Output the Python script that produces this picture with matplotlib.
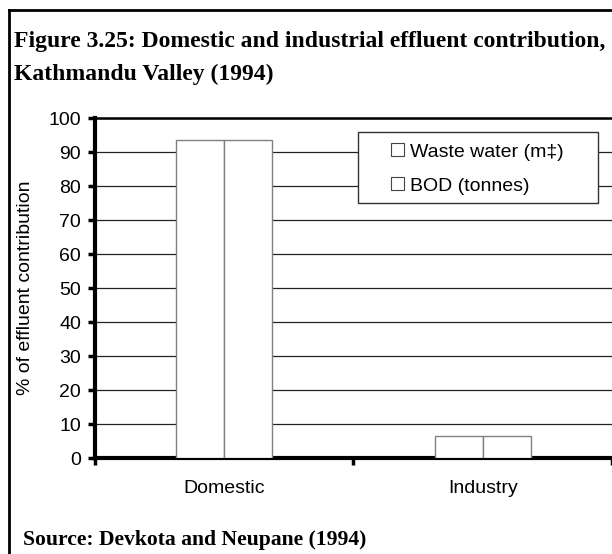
import numpy as np
from matplotlib import pyplot as plt
from matplotlib.lines import Line2D
from matplotlib.patches import Rectangle

# data
categories = ["Domestic", "Industry"]
waste_water = [93.5, 6.5]
bod = [93.5, 6.5]
series_names = ["Waste water (m\u2021)", "BOD (tonnes)"]

sans = "Liberation Sans"
serif = "Liberation Serif"

fig = plt.figure(figsize=(6.12, 5.54), dpi=100)
ax = fig.add_axes([0.155, 0.173, 0.845, 0.614])

x = np.arange(len(categories))
w = 0.186
ax.bar(x - w / 2, waste_water, w, color="white", edgecolor="#808080", linewidth=1, label=series_names[0], zorder=3)
ax.bar(x + w / 2, bod, w, color="white", edgecolor="#808080", linewidth=1, label=series_names[1], zorder=3)

ax.set_xlim(-0.5, 1.5)
ax.set_ylim(0, 100)
ax.set_yticks(range(0, 101, 10))
ax.set_xticks([-0.5, 0.5, 1.5])
ax.set_xticklabels([])
ax.set_xticks(x, minor=True)
ax.set_xticklabels(categories, minor=True, fontsize=14, family=sans)
ax.tick_params(axis="x", which="minor", length=0, pad=16)
ax.tick_params(axis="x", which="major", length=5, width=2.5, direction="out")
ax.tick_params(axis="y", length=5, width=2.5, labelsize=14, pad=5)
for lab in ax.get_yticklabels():
    lab.set_family(sans)

ax.yaxis.grid(True, color="#222222", linewidth=0.9, zorder=0)
ax.set_axisbelow(True)
ax.spines["right"].set_visible(False)
ax.spines["top"].set_linewidth(1.8)
ax.spines["left"].set_linewidth(3)
ax.spines["bottom"].set_linewidth(3)

ax.set_ylabel("% of effluent contribution", fontsize=14, family=sans, labelpad=10)

# legend box drawn separately so the entries can sit inside a wider frame
ax.add_patch(Rectangle((0.509, 0.75), 0.464, 0.209, transform=ax.transAxes, facecolor="white",
                       edgecolor="#333333", linewidth=1, zorder=4))
leg = ax.legend(loc="upper left", bbox_to_anchor=(0.573, 0.926), frameon=False,
                prop={"family": sans, "size": 14},
                handlelength=0.67, handleheight=0.67, handletextpad=0.3, borderpad=0,
                labelspacing=0.85, borderaxespad=0)
leg.set_zorder(5)
for h in leg.legend_handles:
    h.set_edgecolor("#444444")
    h.set_linewidth(0.8)

# title and source
fig.text(0.023, 1 - 47 / 554, "Figure 3.25: Domestic and industrial effluent contribution,",
         family=serif, weight="bold", fontsize=17, va="baseline", ha="left")
fig.text(0.023, 1 - 80 / 554, "Kathmandu Valley (1994)",
         family=serif, weight="bold", fontsize=17, va="baseline", ha="left")
fig.text(0.038, 1 - 545 / 554, "Source: Devkota and Neupane (1994)",
         family=serif, weight="bold", fontsize=15.6, va="baseline", ha="left")

# frame lines
fig.add_artist(Line2D([0.014, 1.0], [0.982, 0.982], color="black", linewidth=2, transform=fig.transFigure))
fig.add_artist(Line2D([0.014, 0.014], [0.0, 0.982], color="black", linewidth=2, transform=fig.transFigure))

plt.savefig("out.png", dpi=100)
